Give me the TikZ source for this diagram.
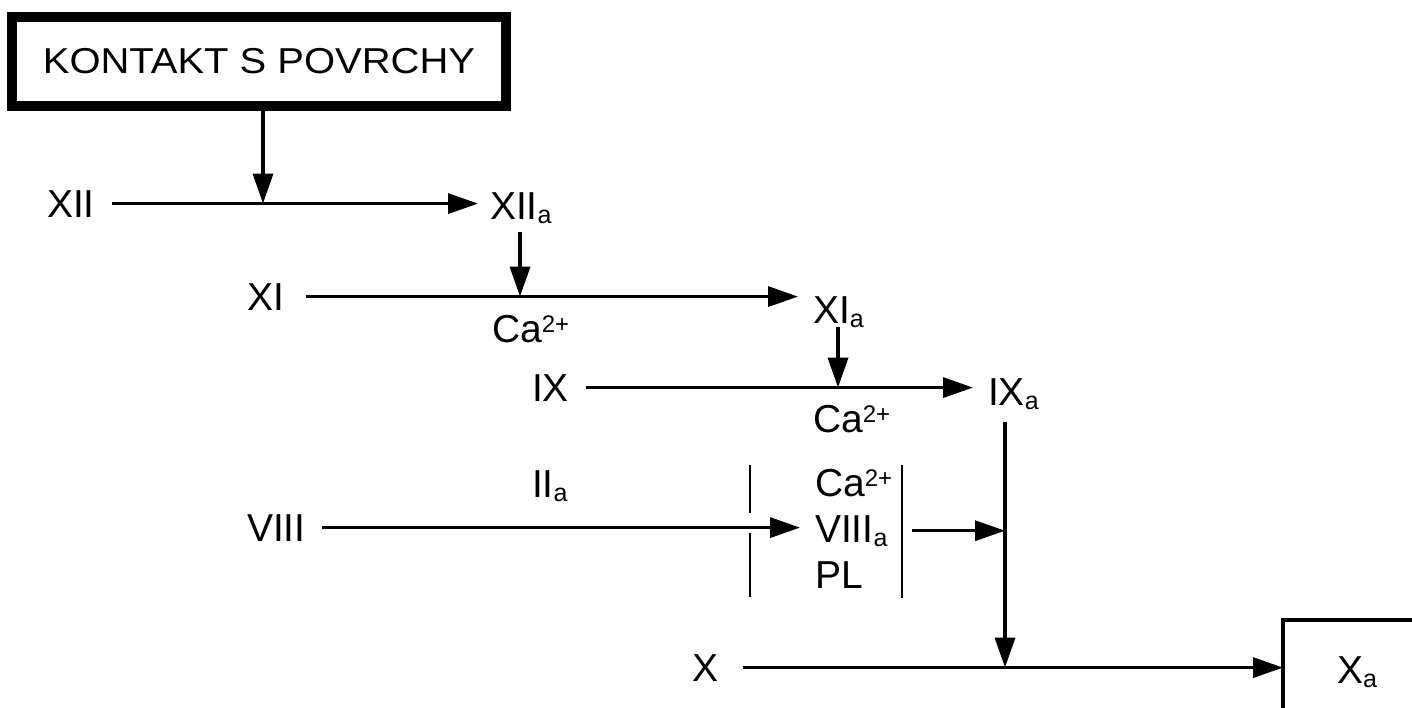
\documentclass[tikz,border=0pt]{standalone}
\usepackage{fontspec}
\setmainfont{Liberation Sans}
\usetikzlibrary{arrows.meta}
\newcommand\lblfont{\fontsize{19.5}{22}\selectfont}
\newcommand\sbs[1]{\raisebox{-2pt}{\fontsize{12.5}{13}\selectfont #1}}
\newcommand\spp[1]{\raisebox{5pt}{\fontsize{12}{13}\selectfont #1}}
\begin{document}
\begin{tikzpicture}[x=0.5pt,y=-0.5pt,
  lbl/.style={anchor=base west,inner sep=0pt,outer sep=0pt,font=\lblfont},
  arr/.style={line width=1.7pt,-{Triangle[length=15pt,width=10pt]}},
  bar/.style={line width=1.4pt},
  boxline/.style={line width=1.6pt}]
\useasboundingbox (0,0) rectangle (1412,707);
\clip (0,0) rectangle (1412,707);
% top box
\node[draw,line width=5pt,minimum width=247pt,minimum height=44.5pt,inner sep=0pt]
  (kontakt) at (259,61.5) {\scalebox{1.11}[1]{\fontsize{18}{20}\selectfont KONTAKT S POVRCHY}};
% labels
\node[lbl] (xii)   at (47,217)  {XII};
\node[lbl] (xiia)  at (490,219) {XII\sbs{a}};
\node[lbl] (xi)    at (247,310) {XI};
\node[lbl] (ca1)   at (492,342) {Ca\spp{2+}};
\node[lbl] (xia)   at (813,323) {XI\sbs{a}};
\node[lbl] (ix)    at (532,401) {IX};
\node[lbl] (ca2)   at (813,432) {Ca\spp{2+}};
\node[lbl] (ixa)   at (988,405) {IX\sbs{a}};
\node[lbl] (iia)   at (532,497) {II\sbs{a}};
\node[lbl] (viii)  at (247,541) {VIII};
\node[lbl] (ca3)   at (815,496) {Ca\spp{2+}};
\node[lbl] (viiia) at (815,542) {VIII\sbs{a}};
\node[lbl] (pl)    at (815,588) {PL};
\node[lbl] (x)     at (692,681) {X};
\node[lbl] (xa)    at (1337,683) {X\sbs{a}};
% helper coordinates (x positions of vertical connectors)
\coordinate (j1) at (263,0);
\coordinate (j2) at (520,0);
\coordinate (j3) at (838,0);
\coordinate (j4) at (1005,0);
\coordinate (xal) at (1283,0);
% Xa box (partially outside)
\draw[boxline] (1440,620) -| (1283,740);
% horizontal connectors
\draw[arr,shorten >=6pt] ([xshift=8.5pt]xii.east) -- (xii.east -| xiia.west);
\draw[arr,shorten >=7.5pt] ([xshift=11pt]xi.east) -- (xi.east -| xia.west);
\draw[arr,shorten >=7.5pt] ([xshift=8.5pt]ix.east) -- (ix.east -| ixa.west);
\draw[arr,shorten >=7.5pt] ([xshift=8pt]viii.east) -- (viii.east -| viiia.west);
\draw[arr] ([xshift=12.5pt]x.east) -- (x.east -| xal);
\draw[arr] ([xshift=12.5pt]viiia.east) -- (viiia.east -| j4);
% vertical connectors
\draw[arr] (kontakt.south -| j1) -- (j1 |- xii.east);
\draw[arr,shorten <=4.5pt] (xiia.south -| j2) -- (j2 |- xi.east);
\draw[arr] (xia.south -| j3) -- (j3 |- ix.east);
\draw[arr,shorten <=6.5pt] (ixa.south -| j4) -- (j4 |- x.east);
% bars around the complex
\draw[bar] (750,465) -- (750,513) (750,533) -- (750,597);
\draw[bar] (902,465) -- (902,598);
\end{tikzpicture}
\end{document}
